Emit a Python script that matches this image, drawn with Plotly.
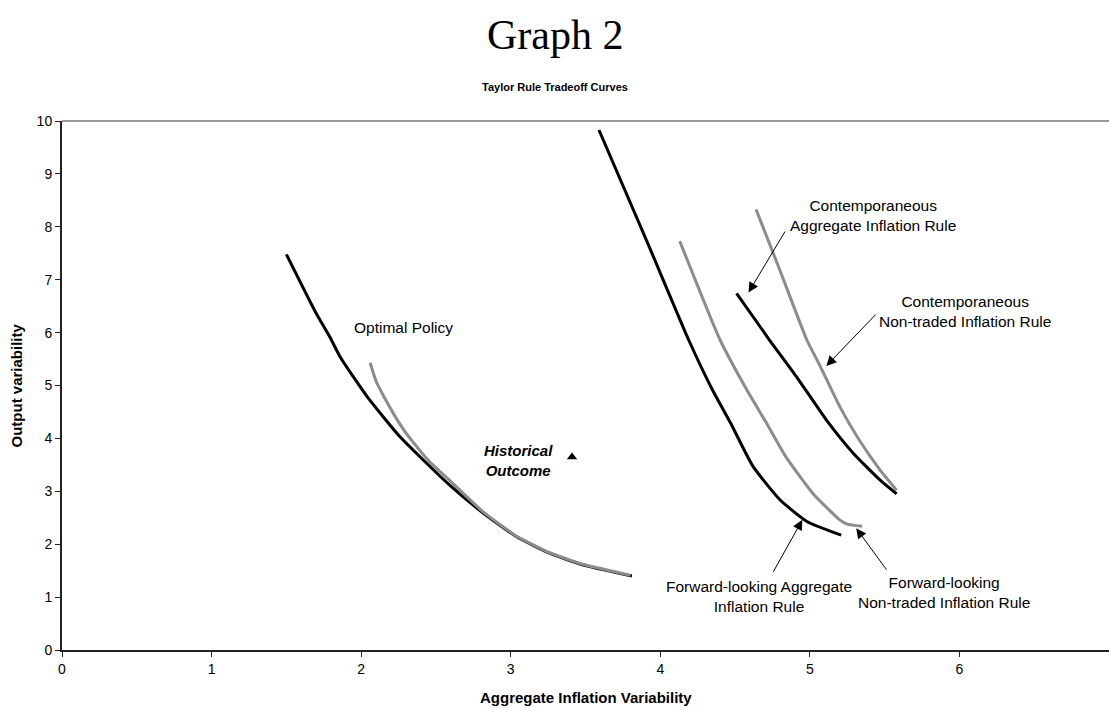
import plotly.graph_objects as go

# ---- data ----
optimal_black_x = [1.50, 1.70, 1.79, 1.86, 2.04, 2.26, 2.59, 2.82, 3.04, 3.26, 3.48, 3.71, 3.81]
optimal_black_y = [7.48, 6.36, 5.92, 5.54, 4.79, 4.03, 3.12, 2.58, 2.14, 1.83, 1.61, 1.46, 1.40]

optimal_gray_x = [2.06, 2.10, 2.15, 2.22, 2.30, 2.45, 2.59, 2.82, 3.04, 3.26, 3.48, 3.71, 3.80]
optimal_gray_y = [5.43, 5.08, 4.80, 4.45, 4.10, 3.58, 3.21, 2.60, 2.15, 1.84, 1.62, 1.47, 1.41]

fwd_agg_x = [3.59, 3.91, 4.19, 4.35, 4.47, 4.62, 4.80, 4.98, 5.21]
fwd_agg_y = [9.83, 7.73, 5.86, 4.91, 4.29, 3.47, 2.84, 2.43, 2.17]

fwd_nt_x = [4.13, 4.40, 4.58, 4.71, 4.84, 5.02, 5.20, 5.25, 5.35]
fwd_nt_y = [7.73, 5.86, 4.91, 4.29, 3.65, 2.96, 2.46, 2.38, 2.34]

contemp_agg_x = [4.51, 4.73, 4.91, 5.11, 5.29, 5.47, 5.58]
contemp_agg_y = [6.74, 5.86, 5.17, 4.35, 3.72, 3.21, 2.95]

contemp_nt_x = [4.64, 4.79, 4.98, 5.07, 5.20, 5.33, 5.47, 5.58]
contemp_nt_y = [8.33, 7.25, 5.86, 5.36, 4.60, 3.97, 3.40, 3.02]

historical_x = [3.41]
historical_y = [3.65]

x_ticks = [0, 1, 2, 3, 4, 5, 6, 7]
y_ticks = [0, 1, 2, 3, 4, 5, 6, 7, 8, 9, 10]

BLACK = "#000000"
GRAY = "#8c8c8c"
FONT = "Liberation Sans, Arial, sans-serif"

fig = go.Figure()

def add_line(x, y, color):
    fig.add_trace(go.Scatter(x=x, y=y, mode="lines",
                             line=dict(color=color, width=3, shape="spline", smoothing=0.5),
                             showlegend=False, hoverinfo="skip"))

add_line(optimal_black_x, optimal_black_y, BLACK)
add_line(optimal_gray_x, optimal_gray_y, GRAY)
add_line(fwd_agg_x, fwd_agg_y, BLACK)
add_line(fwd_nt_x, fwd_nt_y, GRAY)
add_line(contemp_agg_x, contemp_agg_y, BLACK)
add_line(contemp_nt_x, contemp_nt_y, GRAY)

fig.add_trace(go.Scatter(x=historical_x, y=historical_y, mode="markers",
                         marker=dict(symbol="triangle-up", size=9, color=BLACK),
                         showlegend=False, hoverinfo="skip"))

annotations = []

def label(x, y, text, size=15.5):
    annotations.append(dict(x=x, y=y, xref="x", yref="y", text=text, showarrow=False,
                            font=dict(family=FONT, size=size, color=BLACK),
                            align="center", xanchor="center", yanchor="middle"))

def arrow(x_tail, y_tail, x_tip, y_tip):
    annotations.append(dict(x=x_tip, y=y_tip, ax=x_tail, ay=y_tail, xref="x", yref="y",
                            axref="x", ayref="y", text="", showarrow=True,
                            arrowhead=2, arrowsize=2, arrowwidth=1, arrowcolor=BLACK))

label(2.28, 6.09, "Optimal Policy")
label(3.05, 3.59, "<b><i>Historical<br>Outcome</i></b>", size=15)
label(5.42, 8.22, "Contemporaneous<br>Aggregate Inflation Rule")
label(6.04, 6.40, "Contemporaneous<br>Non-traded Inflation Rule")
label(4.66, 1.02, "Forward-looking Aggregate<br>Inflation Rule")
label(5.90, 1.08, "Forward-looking<br>Non-traded Inflation Rule")

arrow(4.84, 7.94, 4.59, 6.76)
arrow(5.45, 6.37, 5.11, 5.37)
arrow(4.75, 1.45, 4.95, 2.46)
arrow(5.52, 1.49, 5.31, 2.30)

# titles
annotations.append(dict(x=0.471, y=1.163, xref="paper", yref="paper", text="Graph 2",
                        showarrow=False, xanchor="center", yanchor="middle",
                        font=dict(family="Liberation Serif, Times New Roman, serif", size=42, color=BLACK)))
annotations.append(dict(x=0.471, y=1.064, xref="paper", yref="paper",
                        text="<b>Taylor Rule Tradeoff Curves</b>",
                        showarrow=False, xanchor="center", yanchor="middle",
                        font=dict(family=FONT, size=11, color=BLACK)))
annotations.append(dict(x=0.5, y=-0.089, xref="paper", yref="paper",
                        text="<b>Aggregate Inflation Variability</b>",
                        showarrow=False, xanchor="center", yanchor="middle",
                        font=dict(family=FONT, size=15, color=BLACK)))
annotations.append(dict(x=-0.043, y=0.5, xref="paper", yref="paper",
                        text="<b>Output variability</b>", textangle=-90,
                        showarrow=False, xanchor="center", yanchor="middle",
                        font=dict(family=FONT, size=15, color=BLACK)))

fig.update_layout(
    width=1109, height=708,
    margin=dict(l=62, r=0, t=121, b=58),
    paper_bgcolor="white", plot_bgcolor="white",
    annotations=annotations,
    shapes=[dict(type="line", xref="paper", yref="paper", x0=0, x1=1, y0=1, y1=1,
                 line=dict(color="#999999", width=2))],
    font=dict(family=FONT, size=14, color=BLACK),
)

fig.update_xaxes(range=[0, 7], tickvals=x_ticks, ticktext=[str(v) for v in x_ticks],
                 showgrid=False, zeroline=False, showline=True, linecolor="#222222", linewidth=2,
                 ticks="outside", ticklen=5, tickcolor="#222222", tickfont=dict(size=14, color=BLACK))
fig.update_yaxes(range=[0, 10], tickvals=y_ticks, ticktext=[str(v) for v in y_ticks],
                 showgrid=False, zeroline=False, showline=True, linecolor="#222222", linewidth=2,
                 ticks="outside", ticklen=5, tickcolor="#222222", tickfont=dict(size=14, color=BLACK))

fig.write_html("out.html", config={"displayModeBar": False},
               post_script="document.body.style.margin='0';document.body.style.overflow='hidden';")
